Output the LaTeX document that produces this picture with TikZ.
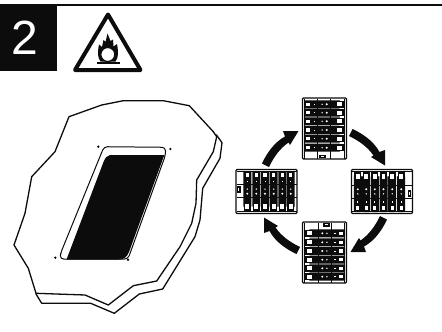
\documentclass[tikz,border=0pt]{standalone}
\usepackage{fontspec}
\setmainfont{Liberation Sans}
\definecolor{ink}{HTML}{0C0C0C}
\tikzset{
  outline/.style={draw=ink,line width=1.3pt,line join=round},
  thinline/.style={draw=ink,line width=1pt},
  panel/.pic={
    \draw[draw=ink,line width=1.4pt,fill=white,rounded corners=1pt] (-22,-30.5) rectangle (22,30.5);
    \draw[thinline] (-20,-30) -- (-20,30) (-7,-30) -- (-7,30) (6,-30) -- (6,30) (20,-30) -- (20,30);
    \foreach \ry in {-24.2,-15.8,-7.2,1.5,10.2,19.2}{
      \fill[ink,rounded corners=1.2pt] (-20.5,\ry-4) rectangle (16,\ry+4);
      \fill[white] (-18.3,\ry-1.6) rectangle (-14.5,\ry+1.6);
      \fill[white] (-11,\ry-.4) rectangle (-9.5,\ry+.4);
      \fill[white] (-2.4,\ry) circle (.8);
      \fill[white] (2.2,\ry) circle (1.1);
      \draw[draw=ink,line width=1.7pt,fill=white] (12,\ry-2.8) rectangle (18.2,\ry+2.8);
    }
    \fill[ink] (-5.5,26) rectangle (1.5,29.2);
    \fill[white] (-3.5,27.2) rectangle (-.5,28.2);
  },
  turnarrow/.pic={
    \fill[ink] (-62.5,-28) .. controls (-57,-40) and (-49,-50) .. (-39.5,-55)
      -- (-41.5,-60.5) -- (-26,-60.5) -- (-34.5,-46.5) -- (-36,-49)
      .. controls (-44,-43.5) and (-50.5,-35) .. (-55.5,-24.5) -- cycle;
  }
}
\begin{document}
\begin{tikzpicture}[x=1pt,y=-1pt]
\useasboundingbox (0,0) rectangle (442,332);
% header
\fill[ink] (0,5) rectangle (57,71);
\fill[ink] (0,3.6) rectangle (442,6.2);
\node[text=white,font=\fontsize{48}{48}\selectfont,inner sep=0pt] (num) at (24.5,38) {2};
% warning triangle
\draw[draw=ink,line width=4pt,line join=round,fill=white] (108,14.5) -- (140.5,70) -- (75,70) -- cycle;
\fill[ink] (96.5,61.5) rectangle (120,63.5);
\fill[ink] (100.5,61.5) .. controls (97.5,58) and (97.5,52) .. (99,44.5) -- (102,47) -- (103.5,40) -- (105.5,42) -- (107.5,33.5) -- (110.5,41) -- (113,39.5) -- (113.5,46.5) -- (117,44) .. controls (118.5,52) and (118.5,58) .. (115.5,61.5) -- cycle;
\draw[draw=ink,line width=1.2pt,fill=white] (107.8,54.5) circle (7);
% slab lower edge
\draw[outline,fill=white] (216.5,135) -- (222,142.7) -- (220,158.3) -- (202.7,188.3) -- (200,220) -- (195,236.7) -- (162.7,289) -- (139.3,294) -- (114.3,313.3) -- (90.7,303.3) -- (41.7,303.3) -- (36,294) -- cycle;
% slab top
\draw[outline,fill=white] (69,116.7) -- (101.7,105) -- (123.3,100.7) -- (163.3,100.7) -- (189.3,105.7) -- (213.3,131.7) -- (216.7,136.7) -- (213.3,151.7) -- (196.7,180) -- (196,203.3) -- (191.7,223.3) -- (180,246.7) -- (156.7,281) -- (133.3,285.7) -- (108.3,305) -- (85,295) -- (36,293.3) -- (28.3,268.3) -- (14,245) -- (25,213.3) -- (31.7,176.7) -- (55,151.7) -- cycle;
% window
\draw[draw=ink,line width=1pt,fill=white,rounded corners=3.5pt] (104,146.7) -- (165.5,147.3) -- (165.5,155) -- (128,259) -- (60,259) -- (60.7,253) -- cycle;
\fill[ink] (110,155) -- (164.3,155) -- (129,252) .. controls (127,257) and (124,259.5) .. (119,259.5) -- (66.5,259.5) -- (103.5,162) .. controls (105,158) and (107,155.5) .. (110,155) -- cycle;
% corner dots
\foreach \px/\py in {98.3/146.7,170.3/149,55.3/257.7,128/259.7}
  \fill[ink] (\px,\py) circle (1.3);
% panels
\pic[rotate=0] at (324.5,128.5) {panel};
\pic[rotate=90] at (382,191.5) {panel};
\pic[rotate=180] at (324.5,252.5) {panel};
\pic[rotate=-90] at (266.5,191.5) {panel};
% arrows
\foreach \a in {0,-90,180,90}
  \pic[rotate=\a] at (324.5,191.5) {turnarrow};
\end{tikzpicture}
\end{document}
